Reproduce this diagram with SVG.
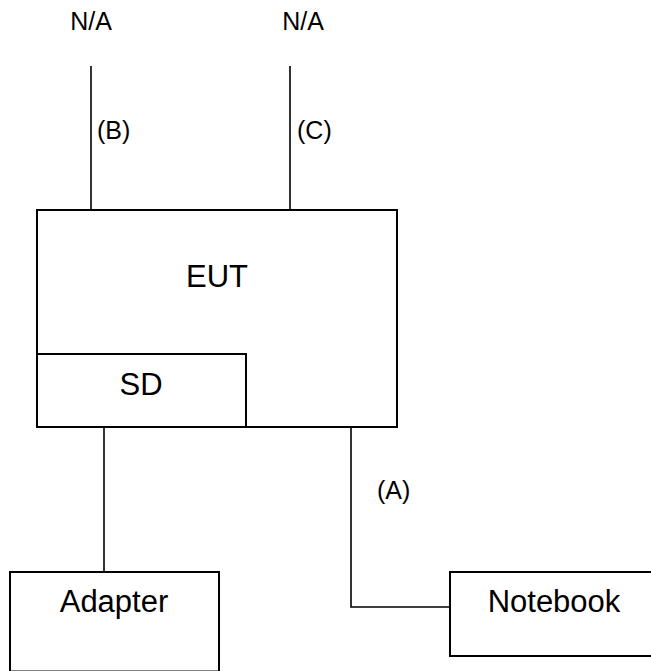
<svg xmlns="http://www.w3.org/2000/svg" width="651" height="671" viewBox="0 0 651 671">
<style>
.box{fill:#fff;stroke:#000;stroke-width:2}
.ln{fill:none;stroke:#000;stroke-width:1.6}
.lbl{font-family:"Liberation Sans",Arial,sans-serif;font-size:31px;fill:#000;text-anchor:middle}
.sm{font-family:"Liberation Sans",Arial,sans-serif;font-size:25px;fill:#000}
</style>
<rect width="651" height="671" fill="#fff"/>
<g id="connectors">
<line class="ln" x1="91" y1="66" x2="91" y2="210"/>
<line class="ln" x1="290" y1="66" x2="290" y2="210"/>
<line class="ln" x1="104" y1="427" x2="104" y2="572"/>
<polyline class="ln" points="351,427 351,607 450,607"/>
<text class="sm" x="97" y="139">(B)</text>
<text class="sm" x="297" y="139">(C)</text>
<text class="sm" x="377" y="499">(A)</text>
</g>
<g id="na1"><text class="sm" x="91" y="30" text-anchor="middle">N/A</text></g>
<g id="na2"><text class="sm" x="303" y="30" text-anchor="middle">N/A</text></g>
<g id="eut">
<rect class="box" x="37" y="210" width="360" height="217"/>
<text class="lbl" x="217" y="287">EUT</text>
</g>
<g id="sd">
<rect class="box" x="37" y="354" width="209" height="73"/>
<text class="lbl" x="141" y="395">SD</text>
</g>
<g id="adapter">
<rect class="box" x="10" y="572" width="209" height="99.5"/>
<text class="lbl" x="114" y="612">Adapter</text>
</g>
<g id="notebook">
<rect class="box" x="450" y="572" width="220" height="84"/>
<text class="lbl" x="554" y="612">Notebook</text>
</g>
</svg>
